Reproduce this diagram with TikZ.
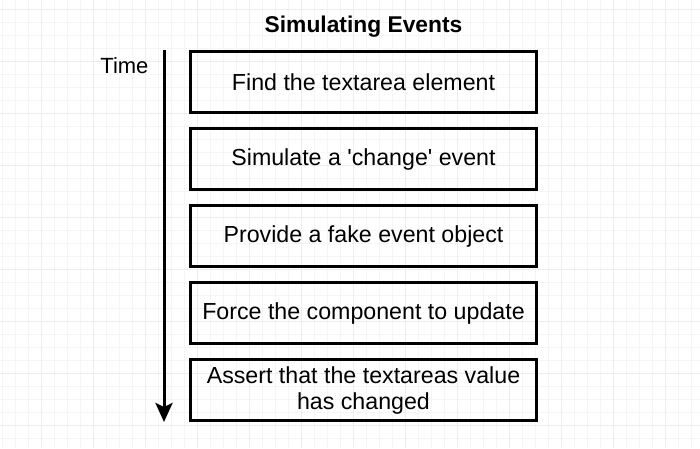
\documentclass[tikz,border=0pt]{standalone}
\usepackage{fontspec}
\setmainfont{Liberation Sans}
\usetikzlibrary{positioning, arrows.meta}
\tikzset{
  stepbox/.style={draw, line width=3pt, minimum width=346pt, minimum height=61pt, align=center, font=\fontsize{23.2}{26}\selectfont},
  ttl/.style={font=\fontsize{22.8}{26}\selectfont\bfseries},
  lbl/.style={font=\fontsize{22}{26}\selectfont},
  tarr/.style={-{Stealth[length=19pt, width=17pt, inset=4pt]}, line width=3pt},
  gridminor/.style={draw=black!4, line width=0.8pt},
  gridmajor/.style={draw=black!7, line width=1pt}
}
\begin{document}
\begin{tikzpicture}[x=1pt, y=-1pt, node distance=13pt]
\useasboundingbox (0,0) rectangle (700,448);
% background grid
\foreach \x in {2,15,...,698} \draw[gridminor] (\x,0) -- (\x,448);
\foreach \y in {9,22,...,447} \draw[gridminor] (0,\y) -- (700,\y);
\foreach \x in {41,93,...,698} \draw[gridmajor] (\x,0) -- (\x,448);
\foreach \y in {9,61,...,447} \draw[gridmajor] (0,\y) -- (700,\y);
% steps
\node[stepbox] (find) at (363.5,82) {Find the textarea element};
\node[stepbox, below=of find] (simulate) {Simulate a \textquotesingle change\textquotesingle{} event};
\node[stepbox, below=of simulate] (fake) {Provide a fake event object};
\node[stepbox, below=of fake] (force) {Force the component to update};
\node[stepbox, below=of force] (assert) {Assert that the textareas value\\has changed};
\node[ttl, above=9pt of find] (title) {Simulating Events};
% time axis
\coordinate (tstart) at ([xshift=-25pt]find.north west);
\coordinate (tend) at ([xshift=-25pt]assert.south west);
\node[lbl, below left=4pt and 12pt of tstart] (time) {Time};
\draw[tarr] (tstart) -- (tend);
\end{tikzpicture}
\end{document}
